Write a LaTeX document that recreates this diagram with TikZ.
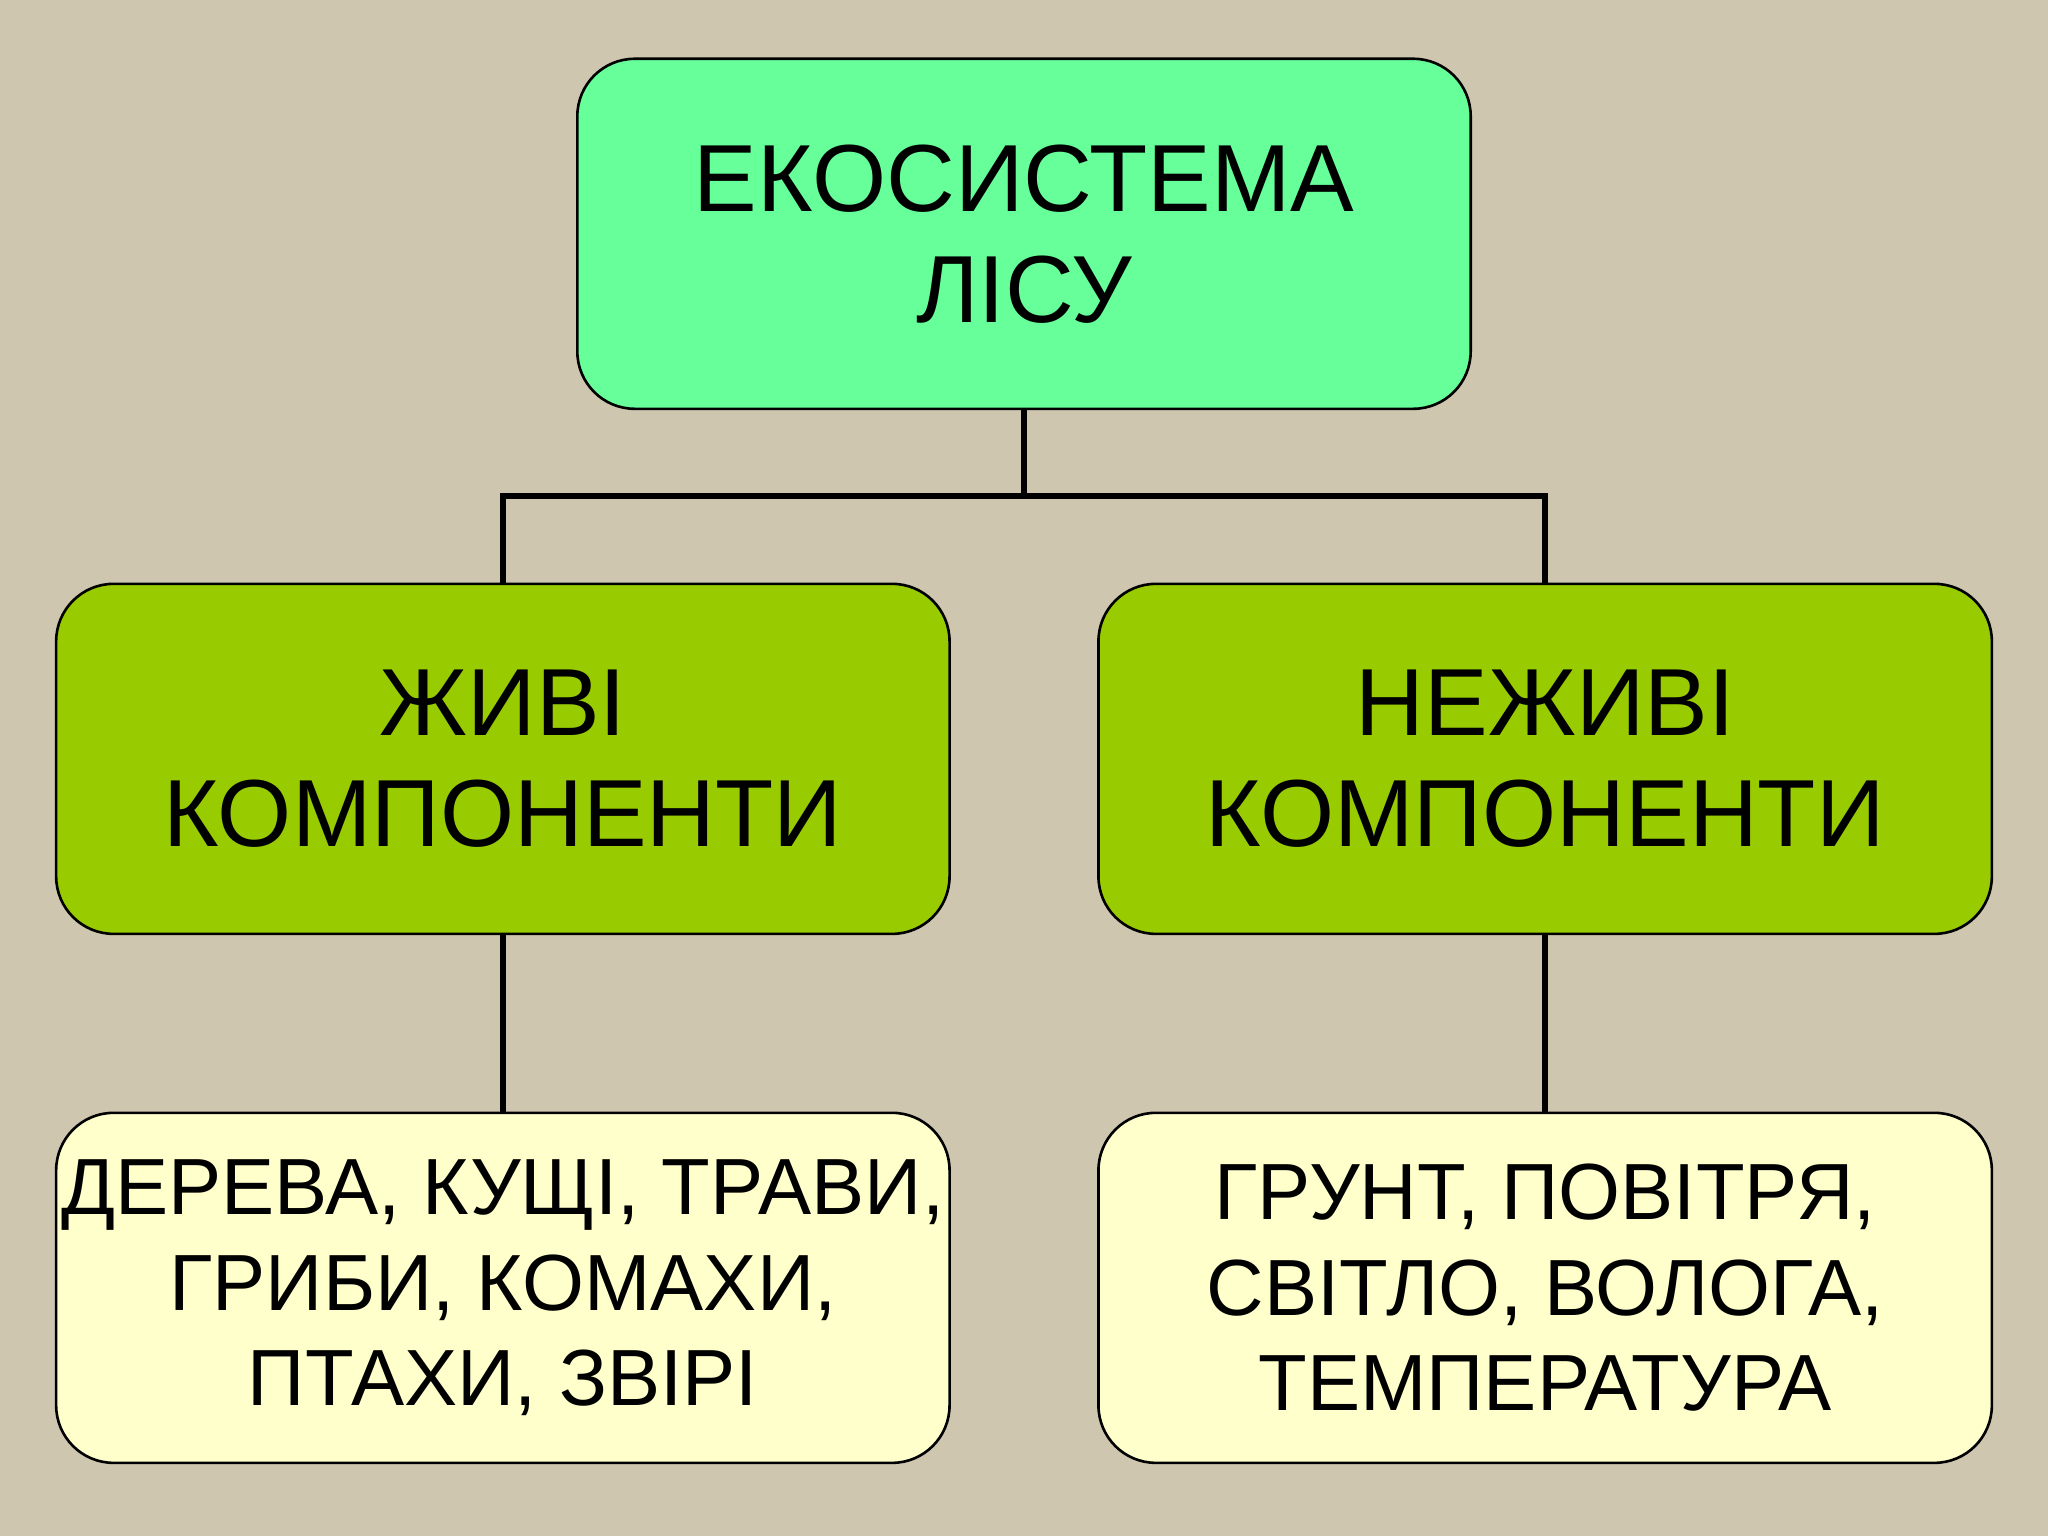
\documentclass[tikz,border=0pt]{standalone}
\usepackage{fontspec}
\setmainfont{Liberation Sans}
\begin{document}
\begin{tikzpicture}[x=0.5pt,y=-0.5pt,
  box/.style={draw=black,line width=1pt,rounded corners=22pt,minimum width=342pt,minimum height=134pt,align=center,inner sep=0pt},
  big/.style={font=\fontsize{36.5}{42.5}\selectfont},
  small/.style={font=\fontsize{30.5}{36.5}\selectfont},
  link/.style={line width=2.2pt}]
\fill[fill={rgb,255:red,207;green,198;blue,176}] (0,0) rectangle (1568,1176);
\useasboundingbox (0,0) rectangle (1568,1176);
\node[box,big,fill={rgb,255:red,102;green,255;blue,153}] (top) at (784,179) {ЕКОСИСТЕМА\\ЛІСУ};
\node[box,big,fill={rgb,255:red,153;green,204;blue,0}] (ml) at (385,581) {ЖИВІ\\КОМПОНЕНТИ};
\node[box,big,fill={rgb,255:red,153;green,204;blue,0}] (mr) at (1183,581) {НЕЖИВІ\\КОМПОНЕНТИ};
\node[box,small,inner xsep=-8pt,fill={rgb,255:red,255;green,255;blue,204}] (bl) at (385,986) {ДЕРЕВА, КУЩІ, ТРАВИ,\\ГРИБИ, КОМАХИ,\\ПТАХИ, ЗВІРІ};
\node[box,small,fill={rgb,255:red,255;green,255;blue,204}] (br) at (1183,986) {ГРУНТ, ПОВІТРЯ,\\СВІТЛО, ВОЛОГА,\\ТЕМПЕРАТУРА};
\coordinate (j) at (784,380);
\draw[link] (top.south) -- (j);
\draw[link] (ml.north) |- (j) -| (mr.north);
\draw[link] (ml.south) -- (bl.north);
\draw[link] (mr.south) -- (br.north);
\end{tikzpicture}
\end{document}
